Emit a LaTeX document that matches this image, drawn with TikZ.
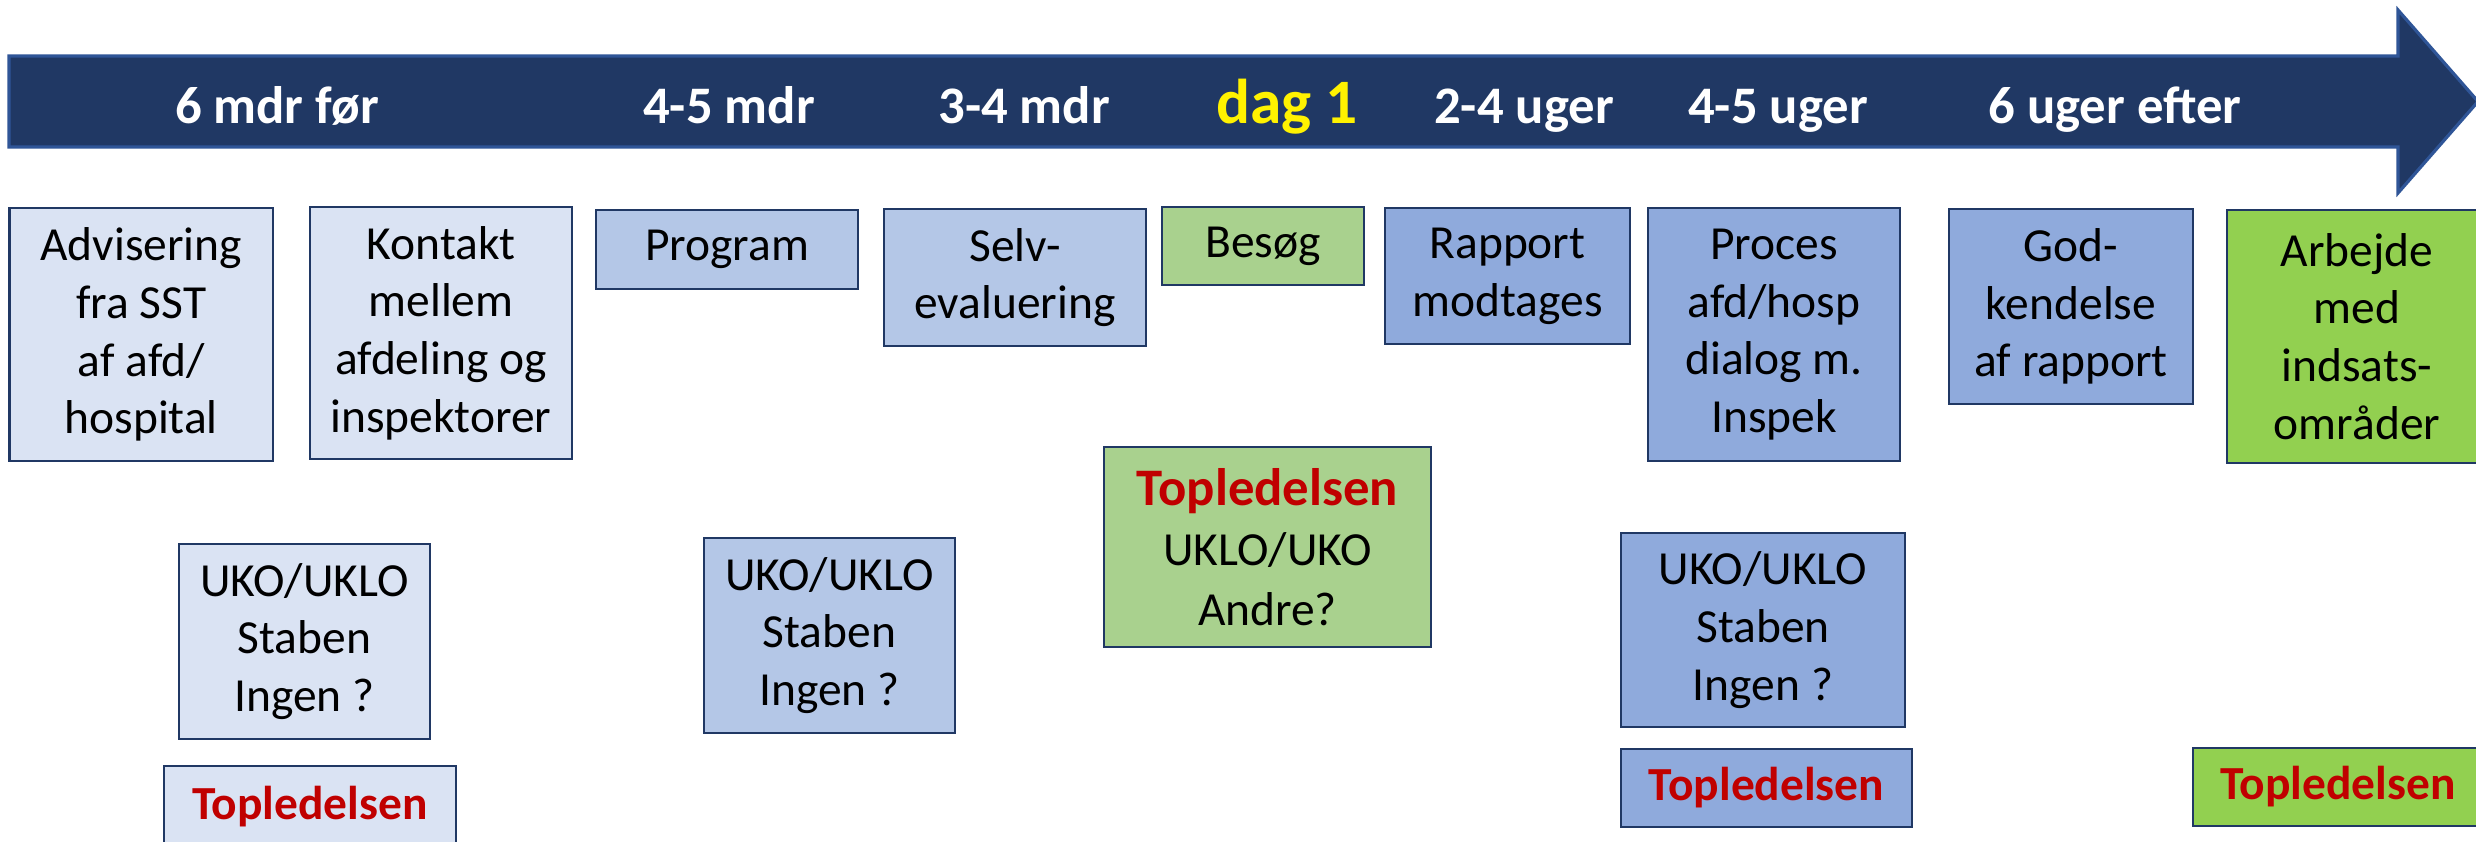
\documentclass[tikz,border=0pt]{standalone}
\usepackage{fontspec}
\setmainfont{Carlito}
\definecolor{bandblaa}{HTML}{203864}
\definecolor{bandkant}{HTML}{2F5597}
\definecolor{kant}{HTML}{203864}
\definecolor{lys}{HTML}{DAE3F3}
\definecolor{mellem}{HTML}{B4C7E7}
\definecolor{blaa}{HTML}{8FAADC}
\definecolor{lysgroen}{HTML}{A9D18E}
\definecolor{groen}{HTML}{92D050}
\definecolor{rod}{HTML}{C00000}
\tikzset{
	fase/.style={anchor=base, text=white, font=\fontsize{15}{18}\selectfont\bfseries},
	boks/.style={draw=kant, line width=0.7pt, inner sep=0pt, align=center, font=\fontsize{13.5}{16.4}\selectfont},
	topled/.style={boks, text=rod, font=\fontsize{13.5}{16.4}\selectfont\bfseries}
}

\begin{document}
\begin{tikzpicture}[x=0.01cm, y=-0.01cm]
			%%%%% START %%%%%
			\useasboundingbox (0,0) rectangle (2476,841);
			\clip (0,0) rectangle (2476,841);
			
			\draw[fill=bandblaa, draw=bandkant, line width=0.9pt] (9,56) -- (2398,56) -- (2398,10) -- (2478,101.5) -- (2398,193) -- (2398,147) -- (9,147) -- cycle;
			
			\node[fase] (f6mdr) at (277,123) {6 mdr før};
			\node[fase] (f45mdr) at (729,123) {4-5 mdr};
			\node[fase] (f34mdr) at (1024,123) {3-4 mdr};
			\node[fase, text=yellow, font=\fontsize{18}{20}\selectfont\bfseries] (fdag) at (1287,123) {dag 1};
			\node[fase] (f24uger) at (1524,123) {2-4 uger};
			\node[fase] (f45uger) at (1778,123) {4-5 uger};
			\node[fase] (f6uger) at (2115,123) {6 uger efter};
			
			\node[boks, fill=lys, minimum width=2.635cm, minimum height=2.53cm] (advis) at (141.25,334.5) {Advisering\\fra SST\\af afd/\\hospital};
			\node[boks, fill=lys, minimum width=2.62cm, minimum height=2.52cm] (kontakt) at (441,333) {Kontakt\\mellem\\afdeling og\\inspektorer};
			\node[boks, fill=mellem, minimum width=2.62cm, minimum height=0.79cm] (program) at (727,249.5) {Program};
			\node[boks, fill=mellem, minimum width=2.62cm, minimum height=1.37cm] (selv) at (1015,277.5) {Selv-\\evaluering};
			\node[boks, fill=lysgroen, minimum width=2.02cm, minimum height=0.78cm] (besoeg) at (1263,246) {Besøg};
			\node[boks, fill=blaa, minimum width=2.45cm, minimum height=1.36cm] (rapport) at (1507.5,276) {Rapport\\modtages};
			\node[boks, fill=blaa, minimum width=2.52cm, minimum height=2.53cm] (proces) at (1774,334.5) {Proces\\afd/hosp\\dialog m.\\Inspek};
			\node[boks, fill=blaa, minimum width=2.44cm, minimum height=1.95cm] (godk) at (2071,306.5) {God-\\kendelse\\af rapport};
			\node[boks, fill=groen, minimum width=2.6cm, minimum height=2.53cm] (arbejde) at (2357,336.5) {Arbejde\\med\\indsats-\\områder};
			
			\node[boks, fill=lys, minimum width=2.51cm, minimum height=1.95cm] (uko1) at (304.5,641.5) {UKO/UKLO\\Staben\\Ingen ?};
			\node[topled, fill=lys, minimum width=2.92cm, minimum height=0.82cm] (top1) at (310,807) {Topledelsen};
			
			\node[boks, fill=mellem, minimum width=2.51cm, minimum height=1.95cm] (uko2) at (829.5,635.5) {UKO/UKLO\\Staben\\Ingen ?};
			
			\node[boks, fill=lysgroen, minimum width=3.27cm, minimum height=2cm, font=\fontsize{13.5}{17}\selectfont] (ledelse) at (1267.5,547) {{\fontsize{15}{17}\selectfont\bfseries\color{rod}Topledelsen}\\UKLO/UKO\\Andre?};
			
			\node[boks, fill=blaa, minimum width=2.84cm, minimum height=1.94cm] (uko3) at (1763,630) {UKO/UKLO\\Staben\\Ingen ?};
			\node[topled, fill=blaa, minimum width=2.91cm, minimum height=0.78cm] (top3) at (1766.5,788) {Topledelsen};
			
			\node[topled, fill=groen, minimum width=2.9cm, minimum height=0.78cm] (top4) at (2338,787) {Topledelsen};
			
			%%%%% END %%%%%
\end{tikzpicture}
\end{document}
